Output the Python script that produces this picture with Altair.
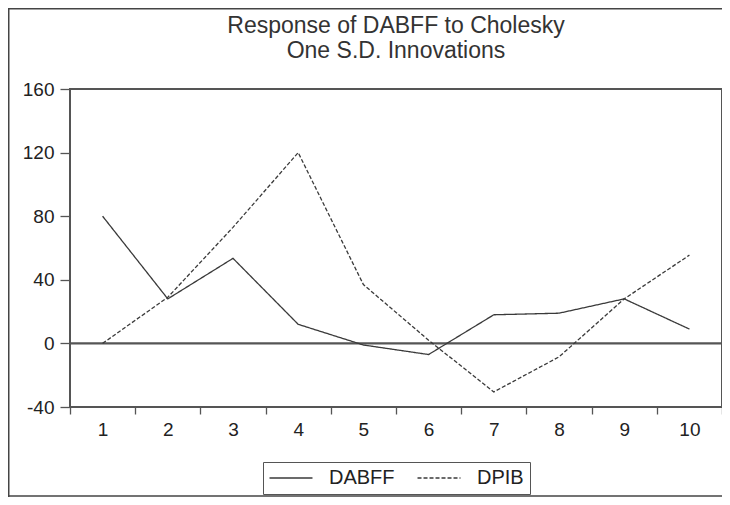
import altair as alt
import pandas as pd

periods = [1, 2, 3, 4, 5, 6, 7, 8, 9, 10]
dabff = [80, 28, 53.5, 12, -1, -7, 18, 19, 28, 9]
dpib = [0, 29, 73, 120, 37, 2, -30.5, -8.5, 28, 55.5]
series_names = ["DABFF", "DPIB"]
y_ticks = [-40, 0, 40, 80, 120, 160]

rows = []
for p, v in zip(periods, dabff):
    rows.append({"period": p, "value": v, "series": series_names[0]})
for p, v in zip(periods, dpib):
    rows.append({"period": p, "value": v, "series": series_names[1]})
df = pd.DataFrame(rows)

FONT = "Liberation Sans"
GRAY = "#3a3a3a"
FRAME = "#555555"
TXT = "#222222"

W, H = 652, 318

lines = alt.Chart(df).mark_line(strokeWidth=1.3, color=GRAY).encode(
    x=alt.X("period:O", sort="ascending", title=None,
            axis=alt.Axis(labelAngle=0, tickBand="extent", tickSize=7, labelPadding=6,
                          labelFontSize=19, labelFont=FONT, labelColor=TXT,
                          domain=False, tickColor=FRAME, tickWidth=1.3)),
    y=alt.Y("value:Q", title=None,
            scale=alt.Scale(domain=[-40, 160], nice=False, zero=False),
            axis=alt.Axis(values=y_ticks, grid=False, tickSize=10, labelPadding=6,
                          labelFontSize=19, labelFont=FONT, labelColor=TXT,
                          labelExpr="replace(datum.label, '\u2212', '-')",
                          domain=False, tickColor=FRAME, tickWidth=1.3)),
    strokeDash=alt.StrokeDash("series:N",
                              scale=alt.Scale(domain=series_names, range=[[1, 0], [4, 2]]),
                              legend=alt.Legend(title=None, orient="none", legendX=193, legendY=373,
                                                direction="horizontal", strokeColor=FRAME,
                                                padding=6, symbolType="M-3.07,0H3.07", symbolSize=196,
                                                symbolOffset=12,
                                                symbolStrokeColor=GRAY, symbolStrokeWidth=1.3,
                                                labelFontSize=20, labelFont=FONT, labelColor=TXT,
                                                columnPadding=19, labelOffset=28)),
)

zero = alt.Chart(pd.DataFrame({"z": [0]})).mark_rule(color=FRAME, strokeWidth=2.2).encode(y="z:Q")

one = pd.DataFrame({"k": [0]})
frame_left = alt.Chart(one).mark_rule(color="#444", strokeWidth=1.5).encode(
    x=alt.value(-61.25), y=alt.value(-81), y2=alt.value(408))
frame_top = alt.Chart(one).mark_rule(color="#444", strokeWidth=1.5).encode(
    x=alt.value(-62), x2=alt.value(652), y=alt.value(-80.25))
frame_bottom = alt.Chart(one).mark_rule(color="#444", strokeWidth=1.5).encode(
    x=alt.value(-62), x2=alt.value(652), y=alt.value(407))

chart = alt.layer(zero, lines, frame_left, frame_top, frame_bottom).properties(
    width=W, height=H,
    autosize=alt.AutoSizeParams(type="none"),
    padding={"left": 62, "top": 81, "right": 0, "bottom": 90},
    title=alt.TitleParams(["Response of DABFF to Cholesky", "One S.D. Innovations"],
                          fontSize=23, font=FONT, fontWeight="normal", color="#333",
                          lineHeight=25, offset=-56, anchor="middle"),
).configure_view(stroke=FRAME, strokeWidth=2).configure_scale(bandPaddingInner=0, bandPaddingOuter=0)

chart.save("out.html", embed_options={"renderer": "svg", "actions": False})
